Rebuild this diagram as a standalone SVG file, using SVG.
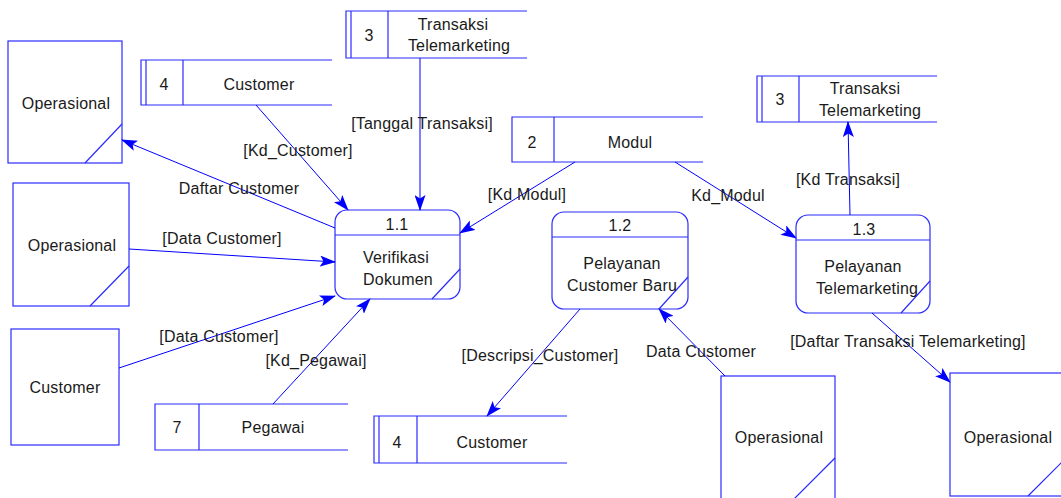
<svg xmlns="http://www.w3.org/2000/svg" width="1061" height="498" viewBox="0 0 1061 498">
  <style>
    .shape { fill: none; stroke: #2a2aff; stroke-width: 1.2; }
    .flow { fill: none; stroke: #0000ff; stroke-width: 1; marker-end: url(#arrow); }
    text { font-family: "Liberation Sans", Arial, sans-serif; font-size: 16px; letter-spacing: 0.2px; fill: #1a1a1a; text-anchor: middle; }
  </style>
  <defs>
    <marker id="arrow" viewBox="0 0 16 11" refX="15" refY="5.5" markerWidth="16" markerHeight="11" markerUnits="userSpaceOnUse" orient="auto">
      <path d="M0,0 L16,5.5 L0,11 L3.5,5.5 z" fill="#0000ff"/>
    </marker>
  </defs>

  <!-- External entities -->
  <g id="ext-operasional-1">
    <rect class="shape" x="8" y="41" width="114" height="122"/>
    <line class="shape" x1="122" y1="124" x2="85" y2="163"/>
    <text x="66" y="109">Operasional</text>
  </g>
  <g id="ext-operasional-2">
    <rect class="shape" x="13" y="183" width="116" height="123"/>
    <line class="shape" x1="129" y1="266" x2="90" y2="306"/>
    <text x="72" y="251">Operasional</text>
  </g>
  <g id="ext-customer">
    <rect class="shape" x="11" y="329" width="108" height="116"/>
    <text x="65" y="393">Customer</text>
  </g>
  <g id="ext-operasional-3">
    <rect class="shape" x="721" y="376" width="114" height="124"/>
    <line class="shape" x1="835" y1="458" x2="794" y2="499"/>
    <text x="779" y="443">Operasional</text>
  </g>
  <g id="ext-operasional-4">
    <rect class="shape" x="950" y="373" width="116" height="123"/>
    <line class="shape" x1="1066" y1="458" x2="1028" y2="496"/>
    <text x="1008" y="443">Operasional</text>
  </g>

  <!-- Data stores -->
  <g id="store-customer-top">
    <path class="shape" d="M332,60 H141 V105 H332 M146,60 V105 M183,60 V105"/>
    <text x="164" y="90">4</text>
    <text x="259" y="90">Customer</text>
  </g>
  <g id="store-transaksi-top">
    <path class="shape" d="M527,11 H346 V58 H527 M351,11 V58 M388,11 V58"/>
    <text x="369" y="41">3</text>
    <text x="453" y="30">Transaksi</text>
    <text x="459" y="51">Telemarketing</text>
  </g>
  <g id="store-modul">
    <path class="shape" d="M703,117 H512 V162 H703 M554,117 V162"/>
    <text x="532" y="148">2</text>
    <text x="630" y="148">Modul</text>
  </g>
  <g id="store-transaksi-right">
    <path class="shape" d="M937,76 H757 V122 H937 M762,76 V122 M799,76 V122"/>
    <text x="780" y="105">3</text>
    <text x="865" y="94">Transaksi</text>
    <text x="870" y="116">Telemarketing</text>
  </g>
  <g id="store-pegawai">
    <path class="shape" d="M348,404 H155 V450 H348 M199,404 V450"/>
    <text x="177" y="433">7</text>
    <text x="273" y="433">Pegawai</text>
  </g>
  <g id="store-customer-bottom">
    <path class="shape" d="M567,416 H374 V463 H567 M379,416 V463 M417,416 V463"/>
    <text x="397" y="448">4</text>
    <text x="492" y="448">Customer</text>
  </g>

  <!-- Processes -->
  <g id="proc-1-1">
    <rect class="shape" x="335" y="210" width="125" height="89" rx="12" ry="12"/>
    <line class="shape" x1="335" y1="235" x2="460" y2="235"/>
    <line class="shape" x1="460" y1="269" x2="432" y2="299"/>
    <text x="397" y="230">1.1</text>
    <text x="396" y="263">Verifikasi</text>
    <text x="398" y="285">Dokumen</text>
  </g>
  <g id="proc-1-2">
    <rect class="shape" x="552" y="212" width="136" height="97" rx="12" ry="12"/>
    <line class="shape" x1="552" y1="237" x2="688" y2="237"/>
    <line class="shape" x1="688" y1="277" x2="659" y2="309"/>
    <text x="620" y="231">1.2</text>
    <text x="622" y="269">Pelayanan</text>
    <text x="622" y="291">Customer Baru</text>
  </g>
  <g id="proc-1-3">
    <rect class="shape" x="796" y="215" width="134" height="98" rx="12" ry="12"/>
    <line class="shape" x1="796" y1="240" x2="930" y2="240"/>
    <line class="shape" x1="930" y1="281" x2="901" y2="313"/>
    <text x="864" y="235">1.3</text>
    <text x="863" y="272">Pelayanan</text>
    <text x="867" y="294">Telemarketing</text>
  </g>

  <!-- Data flows -->
  <g id="flows">
    <line class="flow" x1="335" y1="228" x2="122" y2="140"/>
    <line class="flow" x1="256" y1="105" x2="348" y2="210"/>
    <line class="flow" x1="420" y1="58" x2="420" y2="210"/>
    <line class="flow" x1="575" y1="162" x2="460" y2="233"/>
    <line class="flow" x1="129" y1="249" x2="335" y2="262"/>
    <line class="flow" x1="119" y1="368" x2="335" y2="296"/>
    <line class="flow" x1="273" y1="404" x2="370" y2="299"/>
    <line class="flow" x1="675" y1="162" x2="796" y2="238"/>
    <line class="flow" x1="850" y1="215" x2="848" y2="122"/>
    <line class="flow" x1="580" y1="309" x2="487" y2="416"/>
    <line class="flow" x1="725" y1="376" x2="659" y2="309"/>
    <line class="flow" x1="872" y1="313" x2="950" y2="382"/>

    <text x="298" y="156">[Kd_Customer]</text>
    <text x="239" y="194">Daftar Customer</text>
    <text x="422" y="129">[Tanggal Transaksi]</text>
    <text x="527" y="200">[Kd Modul]</text>
    <text x="728" y="201">Kd_Modul</text>
    <text x="848" y="185">[Kd Transaksi]</text>
    <text x="222" y="244">[Data Customer]</text>
    <text x="219" y="342">[Data Customer]</text>
    <text x="316" y="366">[Kd_Pegawai]</text>
    <text x="540" y="361">[Descripsi_Customer]</text>
    <text x="701" y="357">Data Customer</text>
    <text x="908" y="347">[Daftar Transaksi Telemarketing]</text>
  </g>
</svg>
